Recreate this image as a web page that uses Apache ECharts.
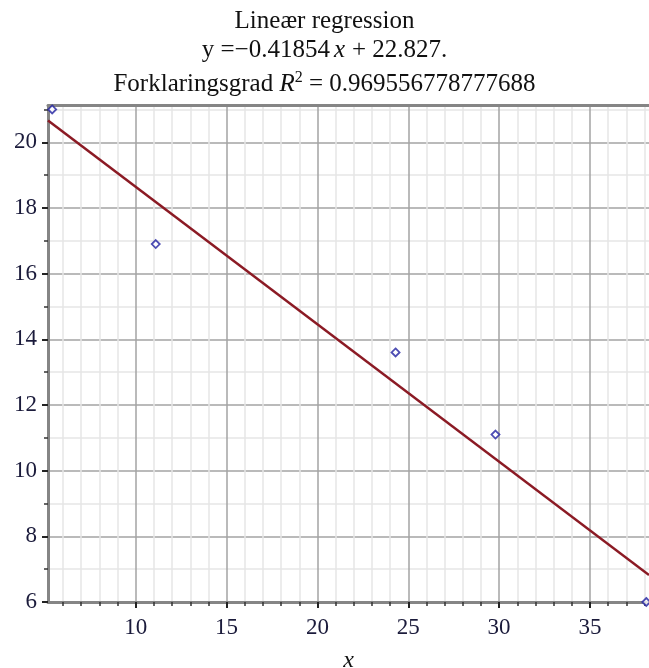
<!DOCTYPE html>
<html>
<head>
<meta charset="utf-8">
<script src="https://cdn.jsdelivr.net/npm/echarts@6/dist/echarts.min.js"></script>
<style>
  html, body { margin: 0; padding: 0; background: #fff; }
  #main { width: 649px; height: 668px; }
</style>
</head>
<body>
<div id="main"></div>
<script>
// data
var pointsX = [5.4, 11.1, 24.3, 29.8, 38.1];
var pointsY = [21.0, 16.9, 13.6, 11.1, 6.0];

// regression line ends (y = -0.41854x + 22.827 over the view)
var lineX = [5.17, 38.25];
var lineY = [20.66, 6.82];

var xMajor = [10, 15, 20, 25, 30, 35];
var xMinor = [6, 7, 8, 9, 11, 12, 13, 14, 16, 17, 18, 19, 21, 22, 23, 24, 26, 27, 28, 29, 31, 32, 33, 34, 36, 37, 38];
var yMajor = [6, 8, 10, 12, 14, 16, 18, 20];
var yMinor = [7, 9, 11, 13, 15, 17, 19, 21];

var xMin = 5.17, xMax = 38.25;
var yMin = 6, yMax = 21.12;

var serif = '"Liberation Serif", "DejaVu Serif", serif';
var labelColor = '#1b1b3b';

var chart = echarts.init(document.getElementById('main'));

var points = pointsX.map(function (x, i) { return [x, pointsY[i]]; });
var line = lineX.map(function (x, i) { return [x, lineY[i]]; });

var option = {
  animation: false,
  backgroundColor: '#fff',
  title: [
    {
      text: 'Lineær regression',
      left: 'center', top: 7, padding: 0,
      textStyle: { fontFamily: serif, fontSize: 25, fontWeight: 'normal', color: '#111', lineHeight: 28 }
    },
    {
      text: 'y =−0.41854{i|x}+ 22.827.',
      left: 'center', top: 36, padding: 0,
      textStyle: {
        fontFamily: serif, fontSize: 25, fontWeight: 'normal', color: '#111', lineHeight: 28,
        rich: { i: { fontFamily: serif, fontSize: 25, fontStyle: 'italic', color: '#111', lineHeight: 28, padding: [0, 7, 0, 4] } }
      }
    },
    {
      text: 'Forklaringsgrad {i|R}{sup|2} = 0.969556778777688',
      left: 'center', top: 70, padding: 0,
      textStyle: {
        fontFamily: serif, fontSize: 25, fontWeight: 'normal', color: '#111', lineHeight: 28,
        rich: {
          i: { fontFamily: serif, fontSize: 25, fontStyle: 'italic', color: '#111', lineHeight: 28 },
          sup: { fontFamily: serif, fontSize: 16, color: '#111', lineHeight: 16, verticalAlign: 'top' }
        }
      }
    }
  ],
  grid: { left: 48, right: 0, top: 105.5, bottom: 66, containLabel: false, outerBoundsMode: 'none' },
  xAxis: [
    {
      // minor grid
      type: 'value', min: xMin, max: xMax, position: 'bottom',
      axisLine: { show: false },
      axisTick: { show: true, customValues: xMinor, length: 4, lineStyle: { color: '#333', width: 1.5 } },
      axisLabel: { show: false },
      splitLine: { show: true, lineStyle: { color: '#e6e6e6', width: 1.5 } }
    },
    {
      // major grid + labels
      type: 'value', min: xMin, max: xMax, position: 'bottom',
      axisLine: { show: true, onZero: false, lineStyle: { color: '#858585', width: 3 } },
      axisTick: { show: true, customValues: xMajor, length: 6, lineStyle: { color: '#222', width: 2 } },
      axisLabel: { customValues: xMajor, margin: 14, fontFamily: serif, fontSize: 23, color: labelColor },
      splitLine: { show: true, lineStyle: { color: '#a3a3a3', width: 1.5 } },
      name: 'x', nameLocation: 'middle', nameGap: 47,
      nameTextStyle: { fontFamily: serif, fontSize: 24, fontStyle: 'italic', color: '#111' }
    },
    {
      // top border
      type: 'value', min: xMin, max: xMax, position: 'top',
      axisLine: { show: true, onZero: false, lineStyle: { color: '#858585', width: 3 } },
      axisTick: { show: false }, axisLabel: { show: false }, splitLine: { show: false }
    }
  ],
  yAxis: [
    {
      type: 'value', min: yMin, max: yMax, position: 'left',
      axisLine: { show: false },
      axisTick: { show: true, customValues: yMinor, length: 4, lineStyle: { color: '#333', width: 1.5 } },
      axisLabel: { show: false },
      splitLine: { show: true, lineStyle: { color: '#e6e6e6', width: 1.5 } }
    },
    {
      type: 'value', min: yMin, max: yMax, position: 'left',
      axisLine: { show: true, onZero: false, lineStyle: { color: '#858585', width: 3 } },
      axisTick: { show: true, customValues: yMajor, length: 6, lineStyle: { color: '#222', width: 2 } },
      axisLabel: { customValues: yMajor, margin: 11, fontFamily: serif, fontSize: 23, color: labelColor },
      splitLine: { show: true, lineStyle: { color: '#a3a3a3', width: 1.5 } }
    }
  ],
  series: [
    {
      type: 'line',
      xAxisIndex: 1, yAxisIndex: 1,
      data: line,
      symbol: 'none',
      lineStyle: { color: '#8b1a24', width: 2.5 },
      z: 3
    },
    {
      type: 'scatter',
      xAxisIndex: 1, yAxisIndex: 1,
      data: points,
      symbol: 'diamond',
      symbolSize: 8,
      clip: false,
      itemStyle: { color: '#fff', borderColor: '#2020a0', borderWidth: 1.8 },
      z: 4
    }
  ]
};

chart.setOption(option);
</script>
</body>
</html>
